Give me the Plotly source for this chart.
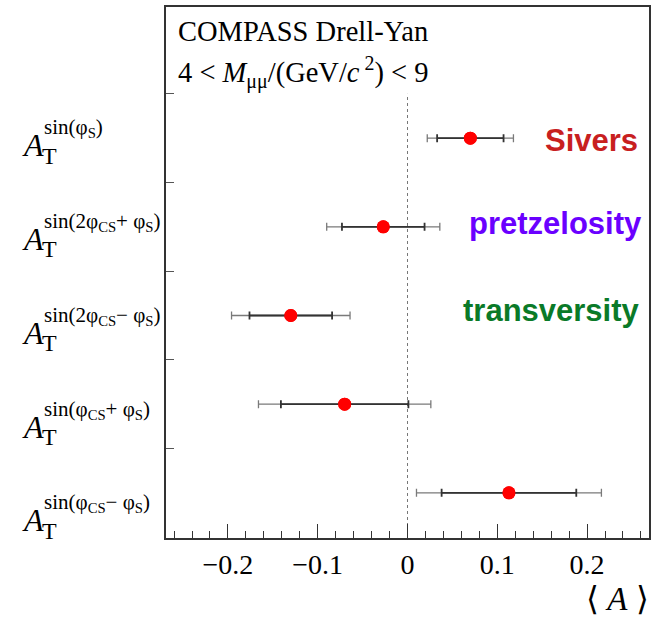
import plotly.graph_objects as go

# ---- data ----
positions = [5, 4, 3, 2, 1]
label_sup = [
    "sin(φ<sub>S</sub>)",
    "sin(2φ<sub>CS</sub>+ φ<sub>S</sub>)",
    "sin(2φ<sub>CS</sub>− φ<sub>S</sub>)",
    "sin(φ<sub>CS</sub>+ φ<sub>S</sub>)",
    "sin(φ<sub>CS</sub>− φ<sub>S</sub>)",
]
values = [0.070, -0.027, -0.130, -0.070, 0.113]
stat_err = [0.037, 0.046, 0.046, 0.071, 0.075]
total_err = [0.048, 0.063, 0.066, 0.096, 0.103]
tmd_names = ["Sivers", "pretzelosity", "transversity"]
tmd_colors = ["#c8201f", "#6a00ff", "#0a7a28"]
xtick_vals = [-0.2, -0.1, 0, 0.1, 0.2]
xtick_text = ["−0.2", "−0.1", "0", "0.1", "0.2"]
ytick_vals = [1.5, 2.5, 3.5, 4.5, 5.5]

W, H = 652, 617
ML, MR, MT, MB = 166, 1, 7, 79
PW, PH = W - ML - MR, H - MT - MB

SERIF = "Liberation Serif, Times New Roman, serif"
SANS = "Liberation Sans, Arial, sans-serif"


def px(xp):
    return (xp - ML) / PW


def py(yp):
    return (H - MB - yp) / PH


fig = go.Figure()

# total uncertainty (outer, lighter)
fig.add_trace(go.Scatter(
    x=values, y=positions, mode="markers",
    marker=dict(color="#ff0000", size=13),
    error_x=dict(type="data", array=total_err, color="#7a7a7a",
                 thickness=1.3, width=4),
    hoverinfo="skip", showlegend=False,
))
# statistical uncertainty (inner, darker)
fig.add_trace(go.Scatter(
    x=values, y=positions, mode="markers",
    marker=dict(color="#ff0000", size=13),
    error_x=dict(type="data", array=stat_err, color="#333333",
                 thickness=1.8, width=4),
    hoverinfo="skip", showlegend=False,
))

fig.add_shape(type="line", xref="x", yref="y", x0=0, x1=0, y0=0.49, y1=5.5,
              line=dict(color="#777777", width=1, dash="3px,3px"), layer="below")

ann = []
# left labels
for i, sup in enumerate(label_sup):
    ya = 155 + 93.75 * i
    ann.append(dict(text="<i>A</i>", x=px(19), y=py(ya - 0.891 * 32 - 1),
                    xanchor="left", yanchor="top", font=dict(family=SERIF, size=32, color="black")))
    ann.append(dict(text="T", x=px(39), y=py(ya + 8 - 0.891 * 24 - 1),
                    xanchor="left", yanchor="top", font=dict(family=SERIF, size=24, color="black")))
    ann.append(dict(text=sup, x=px(41), y=py(ya - 22 - 0.891 * 21 - 1),
                    xanchor="left", yanchor="top", font=dict(family=SERIF, size=21, color="black")))

# TMD names
name_right = [642, 646, 644]
name_base = [150, 233, 320]
for n, c, xr, yb in zip(tmd_names, tmd_colors, name_right, name_base):
    ann.append(dict(text="<b>%s</b>" % n, x=px(xr), y=py(yb - 0.905 * 31 - 1),
                    xanchor="right", yanchor="top", font=dict(family=SANS, size=31, color=c)))

# header text
ann.append(dict(text="COMPASS Drell-Yan", x=px(176), y=py(40 - 0.891 * 28.5 - 1),
                xanchor="left", yanchor="top", font=dict(family=SERIF, size=28.5, color="black")))
ann.append(dict(text="4 < <i>M</i><sub>μμ</sub>/(GeV/<i>c</i><sup> 2</sup>) < 9",
                x=px(176), y=py(80 - 0.891 * 28.5 - 1 - 4),
                xanchor="left", yanchor="top", font=dict(family=SERIF, size=28.5, color="black")))

# x-axis title
ann.append(dict(text="⟨ <i>A</i> ⟩", x=px(653), y=py(609 - 0.891 * 33 - 1),
                xanchor="right", yanchor="top", font=dict(family=SERIF, size=33, color="black")))

for a in ann:
    a.update(xref="paper", yref="paper", showarrow=False, borderpad=1)

fig.update_layout(
    width=W, height=H,
    margin=dict(l=ML, r=MR, t=MT, b=MB, pad=0),
    paper_bgcolor="white", plot_bgcolor="white",
    annotations=ann,
    showlegend=False,
    hovermode=False,
)
fig.update_xaxes(
    range=[-0.269, 0.269], tickvals=xtick_vals, ticktext=xtick_text,
    ticks="inside", ticklen=14, tickwidth=1.3, tickcolor="#333333",
    minor=dict(dtick=0.02, tick0=0, ticks="inside", ticklen=7, tickwidth=1, tickcolor="#333333"),
    showline=True, linewidth=2, linecolor="#333333", mirror=True,
    showgrid=False, zeroline=False,
    tickfont=dict(family=SERIF, size=28, color="black"),
    ticklabelstandoff=0,
)
fig.update_yaxes(
    range=[0.49, 6.48], tickvals=ytick_vals, showticklabels=False,
    ticks="inside", ticklen=8, tickwidth=1, tickcolor="#555555",
    showline=True, linewidth=2, linecolor="#333333", mirror=True,
    showgrid=False, zeroline=False,
)

fig.write_html("out.html", config={"displayModeBar": False})
